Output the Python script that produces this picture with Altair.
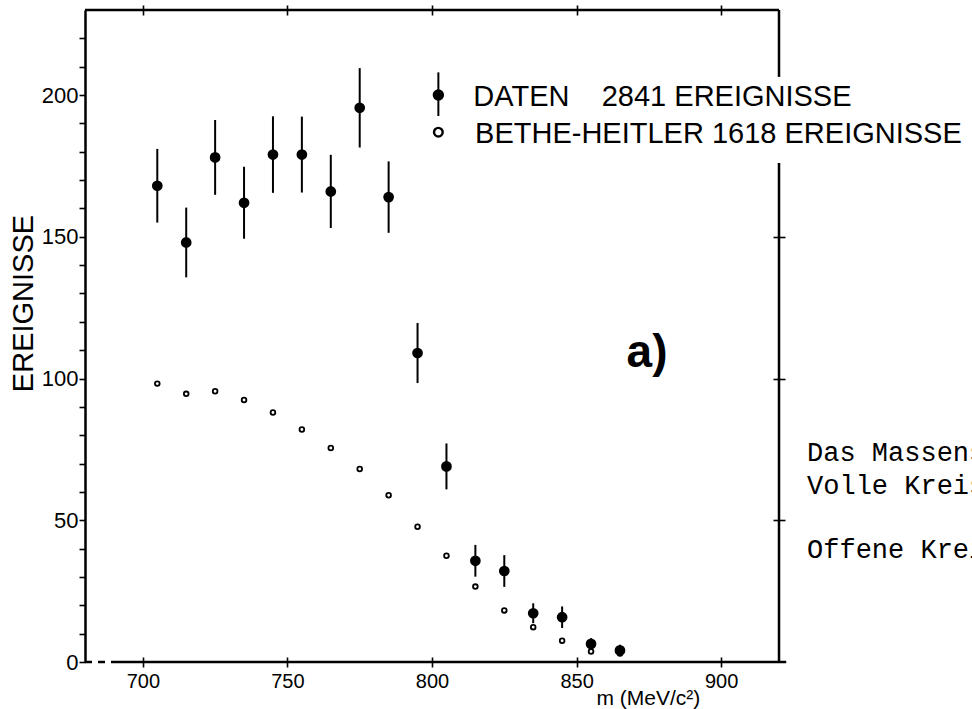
import altair as alt
import pandas as pd

# ---- data ----
mass = [705, 715, 725, 735, 745, 755, 765, 775, 785, 795, 805, 815, 825, 835, 845, 855, 865]
daten = [168, 148, 178, 162, 179, 179, 166, 195.5, 164, 109, 69, 35.7, 32.1, 17.2, 15.8, 6.4, 4.1]
daten_err = [13, 12.3, 13.2, 12.7, 13.5, 13.4, 12.9, 14, 12.6, 10.6, 8.1, 5.6, 5.6, 3.5, 3.8, 2, 2]
bethe = [98.2, 94.6, 95.5, 92.4, 88.0, 82.0, 75.5, 68.1, 58.8, 47.7, 37.5, 26.6, 18.2, 12.3, 7.5, 3.7, 3.0]

x_ticks = [700, 750, 800, 850, 900]
y_ticks = list(range(0, 230, 10))
right_ticks = [50, 100, 150]

NBSP = "\u00a0"
legend_lines = ["DATEN" + NBSP * 4 + "2841 EREIGNISSE", "BETHE-HEITLER 1618 EREIGNISSE"]
note_lines = ["Das Massens", "Volle Kreis", "Offene Krei"]
panel_label = "a)"

X_DOMAIN = [680, 920]
Y_DOMAIN = [0, 230]

df = pd.DataFrame({
    "m": mass,
    "n": daten,
    "lo": [n - e for n, e in zip(daten, daten_err)],
    "hi": [n + e for n, e in zip(daten, daten_err)],
    "bh": bethe,
})

xs = alt.Scale(domain=X_DOMAIN, nice=False, zero=False)
ys = alt.Scale(domain=Y_DOMAIN, nice=False, zero=False)
FONT = "Liberation Sans"

bottom_axis = alt.Axis(
    orient="bottom", values=x_ticks, format="d", domain=False, grid=False,
    ticks=True, tickSize=10, offset=-5, tickWidth=1.6, tickColor="black",
    labelFont=FONT, labelFontSize=20, labelColor="black", labelPadding=4,
    labelFlush=False, labelOverlap=False,
    title="m (MeV/c²)", titleFont=FONT, titleFontSize=21, titleFontWeight="normal",
    titleColor="black", titleX=511, titleY=47, titleAlign="left",
    titleBaseline="alphabetic", titleAnchor="start",
)
left_axis = alt.Axis(
    orient="left", values=y_ticks,
    labelExpr="datum.value % 50 == 0 ? datum.label : ''",
    domain=True, domainWidth=2.5, domainColor="black", grid=False,
    tickSize=6, tickWidth=1.6, tickColor="black",
    labelFont=FONT, labelFontSize=22, labelColor="black", labelPadding=1,
    labelOverlap=False, labelFlush=False,
    title="EREIGNISSE", titleFont=FONT, titleFontSize=29, titleFontWeight="normal",
    titleColor="black", titleX=-62, titleY=293, titleAngle=270,
    titleAlign="center", titleBaseline="middle",
)
top_axis = alt.Axis(
    orient="top", values=x_ticks, labels=False, domain=False, grid=False,
    tickSize=10, offset=-5, tickWidth=1.6, tickColor="black", title=None,
)
right_axis = alt.Axis(
    orient="right", values=right_ticks, labels=False, domain=False, grid=False,
    tickSize=12, offset=-6, tickWidth=1.6, tickColor="black", title=None,
)

errbars = alt.Chart(df).mark_rule(color="black", strokeWidth=2).encode(
    x=alt.X("m:Q", scale=xs, axis=bottom_axis),
    y=alt.Y("lo:Q", scale=ys, axis=left_axis),
    y2="hi:Q",
)

open_pts = alt.Chart(df).mark_point(
    shape="circle", filled=False, color="black", strokeWidth=1.8, size=22, opacity=1
).encode(
    x=alt.X("m:Q", scale=xs, axis=None),
    y=alt.Y("bh:Q", scale=ys, axis=None),
)

closed_pts = alt.Chart(df).mark_circle(color="black", size=115, opacity=1).encode(
    x=alt.X("m:Q", scale=xs, axis=top_axis),
    y=alt.Y("n:Q", scale=ys, axis=right_axis),
)

# ---- frame (drawn as rules; right side is broken by the legend text) ----
frame_df = pd.DataFrame({
    "x": [680, 920, 920, 691.4],
    "x2": [920, 920, 920, 922.5],
    "y": [230, 206.4, 0, 0],
    "y2": [230, 230, 176.0, 0],
})
frame = alt.Chart(frame_df).mark_rule(color="black", strokeWidth=2.5).encode(
    x=alt.X("x:Q", scale=xs, axis=None), x2="x2:Q",
    y=alt.Y("y:Q", scale=ys, axis=None), y2="y2:Q",
)
dash_df = pd.DataFrame({"x": [680], "x2": [691.4], "y": [0]})
dashed = alt.Chart(dash_df).mark_rule(color="black", strokeWidth=2.5, strokeDash=[7, 6]).encode(
    x=alt.X("x:Q", scale=xs, axis=None), x2="x2:Q",
    y=alt.Y("y:Q", scale=ys, axis=None),
)

# ---- legend ----
leg_sym_df = pd.DataFrame({"x": [802.2], "y": [200.0], "lo": [192.6], "hi": [208.0], "yo": [186.9]})
leg_bar = alt.Chart(leg_sym_df).mark_rule(color="black", strokeWidth=2).encode(
    x=alt.X("x:Q", scale=xs, axis=None), y=alt.Y("lo:Q", scale=ys, axis=None), y2="hi:Q")
leg_dot = alt.Chart(leg_sym_df).mark_circle(color="black", size=130, opacity=1).encode(
    x=alt.X("x:Q", scale=xs, axis=None), y=alt.Y("y:Q", scale=ys, axis=None))
leg_open = alt.Chart(leg_sym_df).mark_point(
    shape="circle", filled=False, color="black", strokeWidth=2.4, size=75, opacity=1
).encode(x=alt.X("x:Q", scale=xs, axis=None), y=alt.Y("yo:Q", scale=ys, axis=None))

leg_txt_df = pd.DataFrame({"x": [814.3, 814.9], "y": [196.1, 183.2], "t": legend_lines})
leg_txt = alt.Chart(leg_txt_df).mark_text(
    align="left", baseline="alphabetic", font=FONT, fontSize=29, color="black"
).encode(x=alt.X("x:Q", scale=xs, axis=None), y=alt.Y("y:Q", scale=ys, axis=None), text="t:N")

lab_df = pd.DataFrame({"x": [867.3], "y": [104.2], "t": [panel_label]})
lab_txt = alt.Chart(lab_df).mark_text(
    align="left", baseline="alphabetic", font=FONT, fontSize=46, fontWeight="bold", color="black"
).encode(x=alt.X("x:Q", scale=xs, axis=None), y=alt.Y("y:Q", scale=ys, axis=None), text="t:N")

note_df = pd.DataFrame({"x": [929.7, 929.7, 929.7], "y": [71.0, 59.3, 36.7], "t": note_lines})
note_txt = alt.Chart(note_df).mark_text(
    align="left", baseline="alphabetic", font="Liberation Mono", fontSize=27, color="black"
).encode(x=alt.X("x:Q", scale=xs, axis=None), y=alt.Y("y:Q", scale=ys, axis=None), text="t:N")

chart = alt.layer(
    errbars, open_pts, closed_pts, frame, dashed,
    leg_bar, leg_dot, leg_open, leg_txt, lab_txt, note_txt,
).resolve_axis(x="independent", y="independent").properties(
    width=694, height=652,
    autosize=alt.AutoSizeParams(type="none"),
    padding={"left": 85, "top": 10, "right": 193, "bottom": 47},
    background="white",
).configure_view(stroke=None)

chart.save("out.html", embed_options={"renderer": "svg", "actions": False})
